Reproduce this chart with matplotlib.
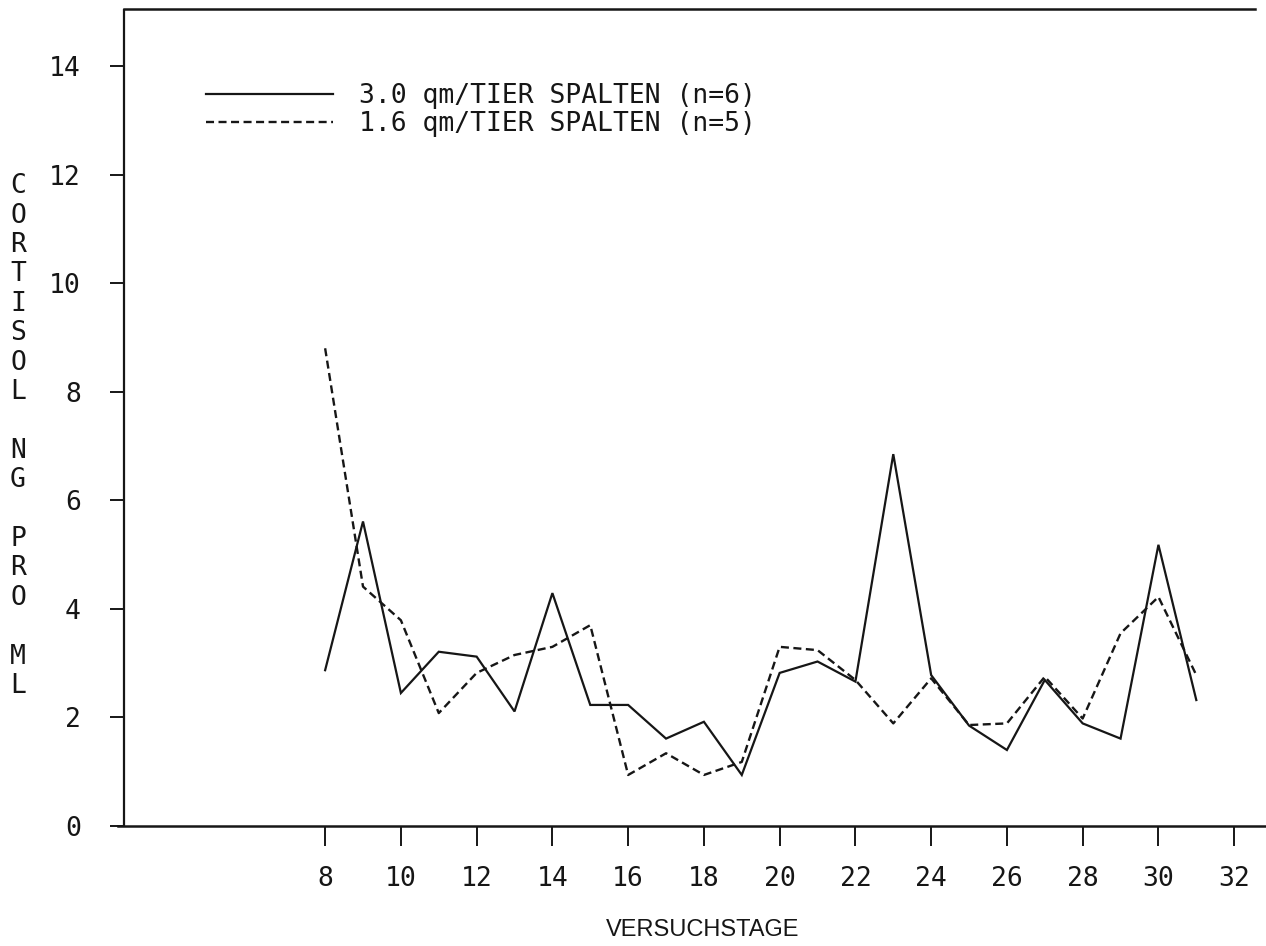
import matplotlib
matplotlib.use("Agg")
import matplotlib.pyplot as plt

# Cortisol (ng/ml) per experimental day for the two space allowances
days = list(range(8, 32))
cortisol_3_0 = [2.87, 5.61, 2.45, 3.21, 3.12, 2.11, 4.29, 2.23, 2.23, 1.61,
                1.92, 0.94, 2.82, 3.03, 2.66, 6.85, 2.78, 1.85, 1.40, 2.69,
                1.89, 1.61, 5.18, 2.32]
cortisol_1_6 = [8.80, 4.41, 3.79, 2.08, 2.82, 3.15, 3.30, 3.70, 0.94, 1.34,
                0.94, 1.18, 3.30, 3.24, 2.69, 1.89, 2.72, 1.86, 1.89, 2.75,
                1.98, 3.55, 4.22, 2.78]
series_labels = ["3.0 qm/TIER SPALTEN (n=6)", "1.6 qm/TIER SPALTEN (n=5)"]
x_ticks = list(range(8, 33, 2))
y_ticks = list(range(0, 15, 2))
y_label = "CORTISOL NG PRO ML"
x_label = "VERSUCHSTAGE"

INK = "#161616"
MONO = "DejaVu Sans Mono"
FS = 19

W, H = 1266, 946
fig = plt.figure(figsize=(W / 100, H / 100), dpi=100)
fig.patch.set_facecolor("white")

ax_left, ax_right, ax_bottom, ax_top = 124, 1266, 826, 9
ax = fig.add_axes([ax_left / W, (H - ax_bottom) / H,
                   (ax_right - ax_left) / W, (ax_bottom - ax_top) / H])
ax.set_facecolor("white")
ax.set_xlim(2.69, 32.84)
ax.set_ylim(0, 15.05)

ax.plot(days, cortisol_3_0, color=INK, lw=1.6, solid_joinstyle="miter",
        label=series_labels[0])
ax.plot(days, cortisol_1_6, color=INK, lw=1.7, linestyle=(0, (3.4, 1.9)),
        label=series_labels[1])

# frame: left and top lines, bottom line running slightly past the left edge
for s in ax.spines.values():
    s.set_visible(False)
ax.plot([0, 0], [0, 1], transform=ax.transAxes, color=INK, lw=1.6,
        clip_on=False, solid_capstyle="butt")
ax.plot([0, (1255 - ax_left) / (ax_right - ax_left)], [1, 1],
        transform=ax.transAxes, color=INK, lw=1.8, clip_on=False)
ax.plot([(118 - ax_left) / (ax_right - ax_left), 1], [0, 0],
        transform=ax.transAxes, color=INK, lw=1.8, clip_on=False)

ax.set_xticks(x_ticks)
ax.set_xticklabels([str(t) for t in x_ticks], fontfamily=MONO, fontsize=FS,
                   color=INK)
ax.set_yticks(y_ticks)
ax.set_yticklabels([str(t) for t in y_ticks], fontfamily=MONO, fontsize=FS,
                   color=INK)
ax.tick_params(axis="x", direction="out", length=14.5, width=1.4,
               color=INK, pad=14)
ax.tick_params(axis="y", direction="out", length=10, width=1.4,
               color=INK, pad=21)

# stacked vertical axis title
stacked = "\n\n".join("\n".join(word) for word in y_label.split())
fig.text(18 / W, (H - 436) / H, stacked, ha="center", va="center",
         fontfamily=MONO, fontsize=FS, color=INK, linespacing=1.17)

fig.text(703 / W, (H - 930) / H, x_label, ha="center", va="center",
         fontfamily="Liberation Sans", fontsize=17, color=INK)

ax.legend(loc="upper left", bbox_to_anchor=(206 / W, (H - 83) / H),
          bbox_transform=fig.transFigure, frameon=False,
          prop={"family": MONO, "size": FS}, handlelength=4.8,
          handletextpad=1.0, labelspacing=0.08, borderpad=0,
          borderaxespad=0, labelcolor=INK)

fig.savefig("out.png", dpi=100, facecolor="white")
